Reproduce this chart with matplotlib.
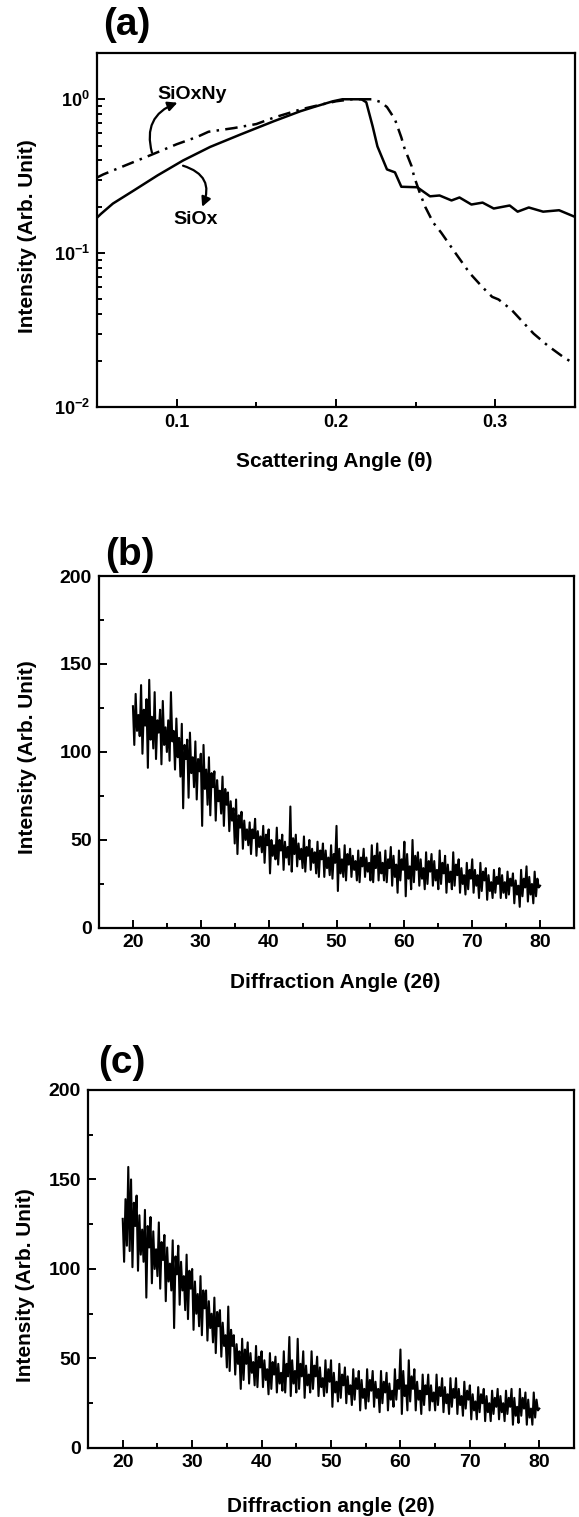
import numpy as np
import matplotlib
matplotlib.use('Agg')
import matplotlib.pyplot as plt
from matplotlib.ticker import MultipleLocator, LogLocator, LogFormatterSciNotation, NullFormatter

plt.rcParams['font.family'] = ['Liberation Sans', 'DejaVu Sans']
plt.rcParams['font.weight'] = 'bold'
plt.rcParams['mathtext.fontset'] = 'custom'
plt.rcParams['mathtext.rm'] = 'Liberation Sans:bold'
plt.rcParams['mathtext.it'] = 'Liberation Sans:bold'
plt.rcParams['mathtext.bf'] = 'Liberation Sans:bold'

# ---------------- data: panel (a) ----------------
siox_x = [0.050, 0.0525, 0.060, 0.073, 0.088, 0.104, 0.121, 0.140, 0.161, 0.1775,
          0.186, 0.198, 0.204, 0.216, 0.219, 0.223, 0.226, 0.232, 0.237, 0.241,
          0.251, 0.259, 0.265, 0.2725, 0.2775, 0.285, 0.292, 0.299, 0.309, 0.314,
          0.321, 0.330, 0.340, 0.350]
siox_y = [0.170, 0.180, 0.210, 0.255, 0.320, 0.400, 0.490, 0.590, 0.720, 0.835,
          0.890, 0.970, 1.000, 1.000, 0.956, 0.667, 0.494, 0.350, 0.335, 0.270,
          0.268, 0.234, 0.237, 0.220, 0.230, 0.207, 0.213, 0.195, 0.204, 0.186,
          0.198, 0.186, 0.190, 0.172]

sioxny_x = [0.050, 0.054, 0.084, 0.100, 0.113, 0.120, 0.136, 0.150, 0.161, 0.178,
            0.190, 0.200, 0.210, 0.2225, 0.228, 0.232, 0.237, 0.241, 0.243, 0.2475,
            0.249, 0.2525, 0.256, 0.261, 0.266, 0.275, 0.284, 0.292, 0.298, 0.302,
            0.310, 0.318, 0.324, 0.333, 0.343, 0.350]
sioxny_y = [0.310, 0.325, 0.435, 0.510, 0.570, 0.615, 0.650, 0.690, 0.760, 0.860,
            0.920, 0.970, 1.000, 1.000, 0.960, 0.890, 0.740, 0.565, 0.480, 0.366,
            0.315, 0.248, 0.200, 0.158, 0.136, 0.100, 0.074, 0.060, 0.052, 0.050,
            0.043, 0.035, 0.030, 0.025, 0.021, 0.019]

label_sioxny = "SiOxNy"
label_siox = "SiOx"

# ---------------- data: panel (b) ----------------
angle_b = np.arange(20, 80.001, 0.2)
intensity_b = [
    126, 104, 133, 112, 121,   109, 138, 99, 124, 115,   130, 91, 141, 107, 120,
    102, 134, 96, 118, 111,    124, 93, 129, 104, 114,   100, 118, 95, 134, 106,
    112, 90, 119, 97, 108,     86, 116, 68, 104, 96,     107, 74, 111, 88, 97,
    80, 106, 73, 96, 89,       99, 58, 104, 79, 90,      70, 97, 64, 88, 80,
    89, 61, 84, 72, 78,        65, 86, 58, 79, 70,       77, 55, 72, 61, 68,
    48, 73, 42, 64, 57,        66, 45, 61, 50, 56,       47, 60, 42, 56, 51,
    62, 41, 55, 46, 52,        43, 58, 37, 53, 47,       56, 31, 50, 41, 47,
    39, 57, 36, 50, 44,        53, 33, 49, 40, 46,       36, 69, 32, 51, 42,
    53, 35, 48, 39, 45,        34, 52, 32, 46, 41,       50, 33, 45, 37, 43,
    31, 49, 29, 44, 39,        48, 29, 44, 34, 40,       30, 47, 28, 42, 37,
    58, 21, 45, 31, 39,        29, 47, 27, 42, 36,       45, 29, 41, 33, 38,
    27, 44, 26, 40, 35,        45, 29, 40, 32, 37,       27, 47, 26, 41, 34,
    48, 27, 43, 31, 37,        27, 44, 26, 39, 34,       46, 24, 41, 29, 36,
    20, 44, 27, 39, 33,        49, 18, 42, 28, 35,       22, 50, 26, 41, 33,
    43, 24, 39, 28, 34,        22, 43, 25, 38, 32,       42, 24, 38, 27, 33,
    22, 44, 25, 37, 31,        41, 20, 36, 26, 32,       22, 43, 24, 36, 30,
    39, 20, 34, 25, 30,        19, 37, 22, 33, 28,       39, 20, 33, 24, 30,
    17, 37, 21, 32, 27,        34, 16, 30, 21, 26,       17, 33, 20, 29, 25,
    34, 17, 30, 20, 26,        17, 32, 19, 28, 24,       31, 14, 27, 19, 24,
    12, 33, 18, 28, 23,        35, 15, 29, 19, 25,       14, 32, 18, 28, 23,
    24]

# ---------------- data: panel (c) ----------------
angle_c = np.arange(20, 80.001, 0.2)
intensity_c = [
    128, 104, 139, 113, 157,   110, 150, 101, 137, 124,   141, 99, 130, 108, 122,
    104, 133, 84, 124, 112,    129, 92, 121, 100, 111,    96, 126, 89, 115, 105,
    119, 82, 112, 93, 103,     88, 116, 67, 107, 97,      113, 80, 104, 88, 96,
    77, 108, 72, 99, 89,       100, 66, 93, 75, 86,       68, 96, 63, 88, 78,
    88, 60, 82, 67, 75,        59, 84, 53, 76, 68,        77, 51, 70, 57, 63,
    45, 79, 43, 66, 57,        63, 41, 58, 47, 54,        33, 61, 38, 55, 47,
    59, 36, 53, 42, 48,        35, 57, 34, 51, 45,        54, 34, 49, 38, 44,
    30, 53, 33, 48, 41,        51, 31, 47, 36, 42,        32, 54, 31, 47, 40,
    62, 29, 49, 36, 43,        31, 61, 33, 47, 40,        54, 28, 46, 35, 41,
    31, 54, 33, 46, 40,        51, 29, 45, 34, 39,        29, 49, 31, 44, 37,
    49, 23, 42, 31, 37,        26, 47, 28, 41, 35,        45, 25, 40, 30, 35,
    24, 44, 27, 39, 33,        43, 21, 38, 28, 33,        22, 44, 26, 38, 32,
    43, 23, 37, 28, 33,        20, 43, 25, 37, 31,        42, 21, 36, 27, 32,
    23, 44, 27, 38, 33,        55, 19, 43, 29, 35,        21, 49, 26, 40, 33,
    44, 21, 37, 27, 32,        19, 41, 24, 35, 30,        41, 21, 35, 26, 31,
    21, 41, 24, 34, 29,        39, 20, 34, 25, 30,        19, 39, 23, 33, 28,
    39, 19, 33, 24, 29,        18, 37, 22, 32, 27,        35, 16, 30, 21, 26,
    16, 34, 20, 30, 25,        33, 15, 29, 20, 25,        15, 32, 19, 28, 23,
    33, 16, 29, 20, 25,        15, 32, 19, 28, 23,        33, 13, 28, 18, 23,
    14, 33, 18, 28, 22,        31, 13, 27, 17, 22,        13, 31, 17, 27, 21,
    22]

x_ticks_bc = [20, 30, 40, 50, 60, 70, 80]
y_ticks_bc = [0, 50, 100, 150, 200]

# ---------------- figure ----------------
fig = plt.figure(figsize=(5.79, 15.17), dpi=100)
ax_a = fig.add_axes([0.1675, 0.7317, 0.8256, 0.2334])
ax_b = fig.add_axes([0.1710, 0.3883, 0.8204, 0.2320])
ax_c = fig.add_axes([0.1520, 0.0455, 0.8394, 0.2360])

for ax in (ax_a, ax_b, ax_c):
    for sp in ax.spines.values():
        sp.set_linewidth(1.6)
    ax.tick_params(which='both', direction='in', top=False, right=False, width=1.4)
    ax.tick_params(which='major', length=6)
    ax.tick_params(which='minor', length=3.5)

# panel (a)
ax_a.plot(siox_x, siox_y, color='black', lw=1.8, solid_joinstyle='round')
ax_a.plot(sioxny_x, sioxny_y, color='black', lw=1.8, ls=(0, (5, 2.5, 1, 2.5)))
ax_a.set_yscale('log')
ax_a.set_xlim(0.05, 0.35)
ax_a.set_ylim(0.01, 2.0)
ax_a.xaxis.set_major_locator(MultipleLocator(0.1))
ax_a.xaxis.set_minor_locator(MultipleLocator(0.05))
ax_a.xaxis.set_major_formatter(plt.FuncFormatter(lambda v, p: f"{v:.1f}"))
ax_a.yaxis.set_major_locator(LogLocator(base=10, numticks=10))
ax_a.yaxis.set_minor_locator(LogLocator(base=10, subs=np.arange(2, 10), numticks=20))
ax_a.yaxis.set_major_formatter(LogFormatterSciNotation())
ax_a.yaxis.set_minor_formatter(NullFormatter())
ax_a.tick_params(axis='both', which='major', labelsize=13, pad=5)
ax_a.set_xlabel("Scattering Angle (\u03b8)", fontsize=15, fontweight='bold')
ax_a.set_ylabel("Intensity (Arb. Unit)", fontsize=15, fontweight='bold')
ax_a.xaxis.set_label_coords(0.496, -0.127)
ax_a.yaxis.set_label_coords(-0.1255, 0.483)

ax_a.annotate('', xy=(0.1005, 0.95), xytext=(0.0845, 0.45),
              arrowprops=dict(arrowstyle='-|>', connectionstyle='arc3,rad=-0.45',
                              lw=1.6, color='black', mutation_scale=14,
                              shrinkA=0, shrinkB=0))
ax_a.annotate('', xy=(0.116, 0.20), xytext=(0.104, 0.37),
              arrowprops=dict(arrowstyle='-|>', connectionstyle='arc3,rad=-0.55',
                              lw=1.6, color='black', mutation_scale=14,
                              shrinkA=0, shrinkB=0))
ax_a.text(0.110, 1.08, label_sioxny, ha='center', va='center', fontsize=14, fontweight='bold')
ax_a.text(0.112, 0.165, label_siox, ha='center', va='center', fontsize=14, fontweight='bold')

# panels (b) and (c)
for ax, xx, yy, xl, lab_x, lab_y in (
        (ax_b, angle_b, intensity_b, "Diffraction Angle (2\u03b8)", (0.497, -0.128), (-0.1305, 0.486)),
        (ax_c, angle_c, intensity_c, "Diffraction angle (2\u03b8)", (0.500, -0.137), (-0.109, 0.455))):
    ax.plot(xx, yy, color='black', lw=1.5)
    ax.set_xlim(15, 85)
    ax.set_ylim(0, 200)
    ax.set_xticks(x_ticks_bc)
    ax.set_yticks(y_ticks_bc)
    ax.xaxis.set_minor_locator(MultipleLocator(5))
    ax.yaxis.set_minor_locator(MultipleLocator(25))
    ax.tick_params(axis='both', which='major', labelsize=14)
    ax.tick_params(axis='x', which='major', pad=4)
    ax.tick_params(axis='y', which='major', pad=5)
    ax.set_xlabel(xl, fontsize=15, fontweight='bold')
    ax.set_ylabel("Intensity (Arb. Unit)", fontsize=15, fontweight='bold')
    ax.xaxis.set_label_coords(*lab_x)
    ax.yaxis.set_label_coords(*lab_y)

# panel letters
fig.text(0.219, 0.9835, "(a)", ha='center', va='center', fontsize=28, fontweight='bold')
fig.text(0.2245, 0.6341, "(b)", ha='center', va='center', fontsize=28, fontweight='bold')
fig.text(0.2107, 0.2993, "(c)", ha='center', va='center', fontsize=28, fontweight='bold')

fig.savefig('out.png', dpi=100, facecolor='white')
